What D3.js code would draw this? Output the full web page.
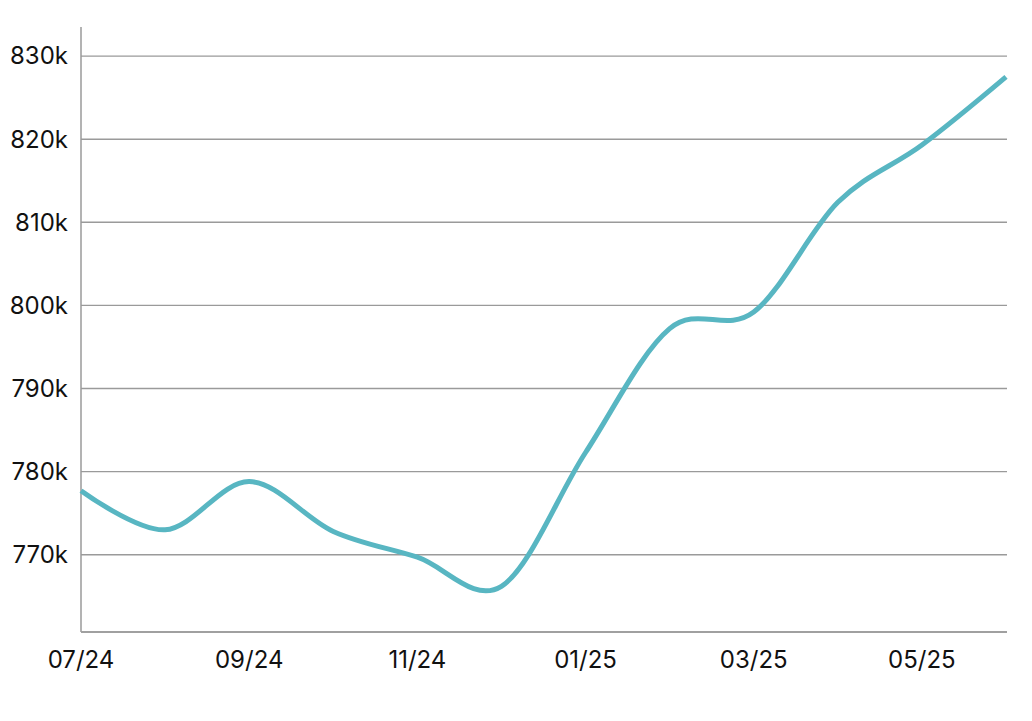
<!DOCTYPE html>
<html>
<head>
<meta charset="utf-8">
<script src="https://cdn.jsdelivr.net/npm/d3@7/dist/d3.min.js"></script>
<style>
  html, body { margin: 0; padding: 0; background: #fff; }
  svg { display: block; }
  .tick-label { font-family: Inter, "Noto Sans", sans-serif; font-size: 24px; fill: #111; }
</style>
</head>
<body>
<div id="chart"></div>
<script>
  'use strict';

  // monthly values, in thousands
  var months = ['07/24', '08/24', '09/24', '10/24', '11/24', '12/24',
                '01/25', '02/25', '03/25', '04/25', '05/25', '06/25'];
  var values = [777.7, 773.0, 778.8, 772.8, 769.7, 766.2,
                782.3, 797.2, 799.2, 812.4, 819.3, 827.5];
  var yTicks = [770, 780, 790, 800, 810, 820, 830];
  var xTickLabels = ['07/24', '09/24', '11/24', '01/25', '03/25', '05/25'];

  (function () {
    var W = 1032, H = 721;
    var plotLeft = 81, plotRight = 1006, plotTop = 27, plotBottom = 632;

    var svg = d3.select('#chart').append('svg')
      .attr('width', W)
      .attr('height', H);

    var x = d3.scalePoint()
      .domain(months)
      .range([plotLeft, plotRight]);

    var y = d3.scaleLinear()
      .domain([760.7, 833.5])
      .range([plotBottom, plotTop]);

    // horizontal grid
    svg.append('g').selectAll('line')
      .data(yTicks)
      .enter().append('line')
        .attr('x1', plotLeft)
        .attr('x2', plotRight + 1)
        .attr('y1', function (d) { return y(d); })
        .attr('y2', function (d) { return y(d); })
        .attr('stroke', '#9a9a9a')
        .attr('stroke-width', 1.4);

    // y labels
    svg.append('g').selectAll('text')
      .data(yTicks)
      .enter().append('text')
        .attr('class', 'tick-label')
        .attr('x', plotLeft - 13)
        .attr('y', function (d) { return y(d); })
        .attr('dy', '0.35em')
        .attr('text-anchor', 'end')
        .text(function (d) { return d + 'k'; });

    // axis lines
    svg.append('line')
      .attr('x1', plotLeft).attr('x2', plotLeft)
      .attr('y1', plotTop).attr('y2', plotBottom)
      .attr('stroke', '#9a9a9a')
      .attr('stroke-width', 1.5);

    svg.append('line')
      .attr('x1', plotLeft).attr('x2', plotRight + 1)
      .attr('y1', plotBottom).attr('y2', plotBottom)
      .attr('stroke', '#a0a0a0')
      .attr('stroke-width', 2);

    // x labels
    svg.append('g').selectAll('text')
      .data(xTickLabels)
      .enter().append('text')
        .attr('class', 'tick-label')
        .attr('x', function (d) { return x(d); })
        .attr('y', 668)
        .attr('text-anchor', 'middle')
        .text(function (d) { return d; });

    var line = d3.line()
      .x(function (d, i) { return x(months[i]); })
      .y(function (d) { return y(d); })
      .curve(d3.curveCardinal.tension(0));

    svg.append('path')
      .datum(values)
      .attr('d', line)
      .attr('fill', 'none')
      .attr('stroke', '#58b6c2')
      .attr('stroke-width', 5)
      .attr('stroke-linecap', 'butt');
  })();
</script>
</body>
</html>
